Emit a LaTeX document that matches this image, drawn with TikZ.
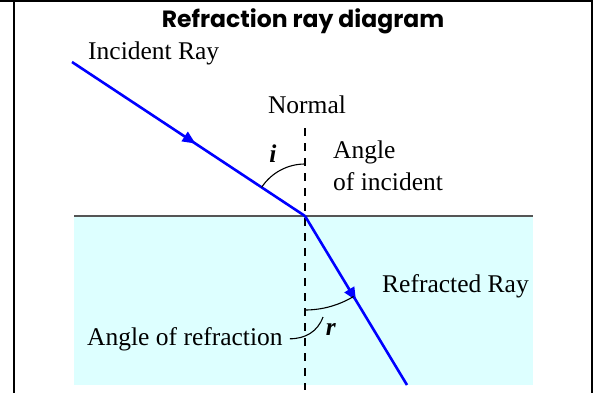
\documentclass[tikz,border=0pt]{standalone}
\usepackage{fontspec}
\setmainfont{Liberation Serif}
\newfontfamily\headfont{Poppins}
\usetikzlibrary{positioning, arrows.meta, decorations.markings}

\definecolor{waterblue}{RGB}{221,255,255}
\definecolor{surfacegray}{RGB}{85,85,85}

\begin{document}
\begin{tikzpicture}[
    x=1pt, y=-1pt, % one unit is one pixel, y grows downwards
    every node/.style={font=\fontsize{25.5}{30}\selectfont, inner sep=0pt},
    beam/.style={blue, line width=2.6pt, postaction={decorate},
        decoration={markings, mark=at position #1 with {\arrow{Triangle[length=13pt, width=11pt]}}}},
    anglemark/.style={black, line width=1.1pt},
    frame/.style={black, line width=2pt}
]
    \useasboundingbox (0,0) rectangle (593,393);

    % Water and surface
    \fill[waterblue] (74,216) rectangle (533,385);
    \coordinate (sl) at (74,216);
    \coordinate (sr) at (533,216);
    \draw[surfacegray, line width=1.8pt] (sl) -- (sr);

    % Frame lines
    \draw[frame] (0,1) -- (593,1);
    \draw[frame] (13.8,0) -- (13.8,393);
    \draw[frame] (591.5,0) -- (591.5,393);

    % Labels
    \node[font=\headfont\bfseries\fontsize{23.5}{28}\selectfont, anchor=base] (title) at (303,28) {Refraction ray diagram};
    \node[anchor=base west] (incident) at (88,60) {Incident Ray};
    \node[anchor=base] (normal) at (307,113) {Normal};
    \node[anchor=base west] (angle) at (333,158) {Angle};
    \node[anchor=base west] (ofinc) at (333,190) {of incident};
    \node[anchor=base west] (refracted) at (382,292) {Refracted Ray};
    \node[anchor=base west, inner xsep=7pt] (refraction) at (80,345) {Angle of refraction};
    \node[anchor=base] (i) at (273,162) {\textbf{\textit{i}}};
    \node[anchor=base] (r) at (331,335) {\textbf{\textit{r}}};

    % Points of the rays
    \coordinate (O) at (305,216);
    \coordinate (src) at (72,62);
    \coordinate (dst) at (407,385);
    \coordinate (ntop) at (305,128);
    \coordinate (nbot) at (305,390);

    % Normal
    \draw[black, line width=1.1pt, dash pattern=on 8pt off 7pt] (ntop) -- (nbot);

    % Rays
    \draw[beam=0.53] (src) -- (O);
    \draw[beam=0.5] (O) -- (dst);

    % Angle marks
    \draw[anglemark] (O) ++(213.5:52) arc[start angle=213.5, end angle=270, radius=52];
    \draw[anglemark] (O) ++(90:94) arc[start angle=90, end angle=58.9, radius=94];
    \coordinate (rlead) at (323,317);
    \draw[anglemark] (rlead) to[out=-110, in=0] (refraction.east);
\end{tikzpicture}
\end{document}
